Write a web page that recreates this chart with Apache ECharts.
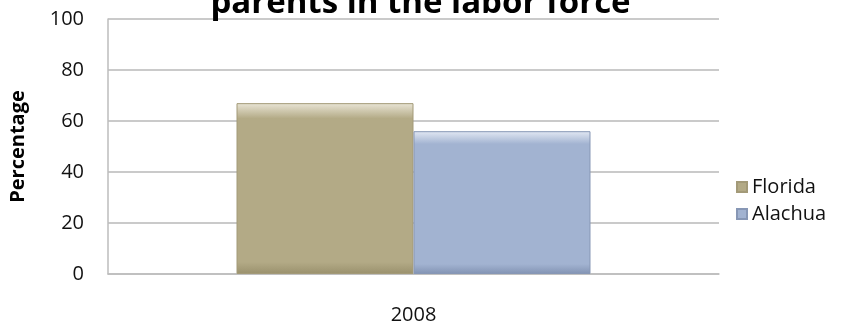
<!DOCTYPE html>
<html><head><meta charset="utf-8">
<script src="https://cdn.jsdelivr.net/npm/echarts@6/dist/echarts.min.js"></script>
<style>html,body{margin:0;padding:0;background:#fff}#c{width:841px;height:325px}</style>
</head><body><div id="c"></div>
<script>
const titleText = "parents in the labor force";
const categories = ["2008"];
const seriesNames = ["Florida", "Alachua"];
const floridaValues = [67];
const alachuaValues = [56];
const yTicks = [0, 20, 40, 60, 80, 100];

const FONT = "Open Sans";
const chart = echarts.init(document.getElementById('c'), null, {renderer: 'canvas'});
function grad(top, mid, bot) {
  return new echarts.graphic.LinearGradient(0, 0, 0, 1, [
    {offset: 0, color: top}, {offset: 0.09, color: mid}, {offset: 0.93, color: mid}, {offset: 1, color: bot}
  ]);
}
chart.setOption({
  animation: false,
  title: {
    text: titleText, left: 'center', top: -18,
    textStyle: {fontFamily: FONT, fontWeight: 'bold', fontSize: 33, color: '#000'}
  },
  legend: {
    orient: 'vertical', left: 731, top: 172, itemWidth: 10, itemHeight: 10, itemGap: 7,
    textStyle: {fontFamily: FONT, fontSize: 20, color: '#111'},
    data: seriesNames.map(n => ({name: n, icon: 'rect'}))
  },
  grid: {left: 103, right: 122, top: 19, bottom: 50, containLabel: false},
  xAxis: {
    type: 'category', data: categories,
    axisLine: {show: true, lineStyle: {color: '#bdbdbd', width: 1.5}},
    axisTick: {show: false},
    axisLabel: {fontFamily: FONT, fontSize: 20, color: '#111', margin: 31}
  },
  yAxis: {
    type: 'value', min: yTicks[0], max: yTicks[yTicks.length - 1], interval: yTicks[1] - yTicks[0],
    name: 'Percentage', nameLocation: 'middle', nameGap: 80, nameRotate: 90,
    nameTextStyle: {fontFamily: FONT, fontWeight: 'bold', fontSize: 20, color: '#000'},
    axisLine: {show: true, lineStyle: {color: '#bdbdbd', width: 1.5}},
    axisTick: {show: false},
    axisLabel: {fontFamily: FONT, fontSize: 20, color: '#111', margin: 24},
    splitLine: {lineStyle: {color: '#b8b8b8', width: 1.5}}
  },
  series: [
    {name: seriesNames[0], type: 'bar', data: floridaValues, barWidth: 177, barGap: '0%',
     itemStyle: {color: grad('#e9e5d6', '#b3aa86', '#9a916d'), borderColor: '#a39a78', borderWidth: 1}},
    {name: seriesNames[1], type: 'bar', data: alachuaValues, barWidth: 177, barGap: '0%',
     itemStyle: {color: grad('#e2e8f3', '#a2b3d1', '#8293b3'), borderColor: '#8797b5', borderWidth: 1}}
  ]
});
</script></body></html>
